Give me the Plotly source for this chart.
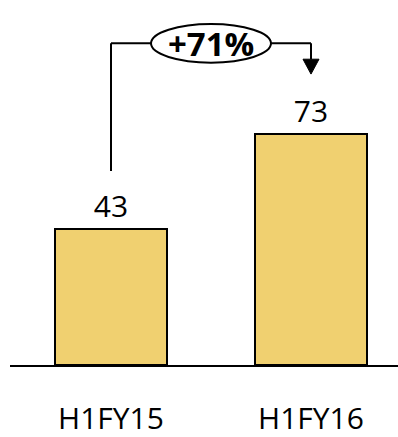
import plotly.graph_objects as go

# Half-year revenue comparison
periods = ["H1FY15", "H1FY16"]
values = [43, 73]
growth_label = "+71%"

bar_color = "#F0D070"
font_family = "Open Sans, Liberation Sans, sans-serif"

fig = go.Figure()

fig.add_trace(go.Bar(
    x=periods,
    y=values,
    width=0.56,
    marker=dict(color=bar_color, line=dict(color="black", width=2)),
    text=[str(v) for v in values],
    textposition="outside",
    textfont=dict(family=font_family, size=30, color="black"),
    cliponaxis=False,
))

# Growth bracket: rises from the first bar, passes the ellipse, drops onto the second bar
top = max(values) + 28.6
start = values[0] + 18.3
tip = values[1] + 18.9
head_h = 4.7
head_w = 0.04
mid = 0.5
ell_half_w = 0.3
ell_half_h = 6.1

line_style = dict(color="black", width=2)
shapes = [
    dict(type="line", xref="x", yref="y", x0=0, x1=0, y0=start, y1=top, line=line_style),
    dict(type="line", xref="x", yref="y", x0=0, x1=mid - ell_half_w, y0=top, y1=top, line=line_style),
    dict(type="line", xref="x", yref="y", x0=mid + ell_half_w, x1=1, y0=top, y1=top, line=line_style),
    dict(type="line", xref="x", yref="y", x0=1, x1=1, y0=top, y1=tip + head_h, line=line_style),
    dict(type="path", xref="x", yref="y",
         path=f"M {1 - head_w},{tip + head_h} L {1 + head_w},{tip + head_h} L 1,{tip} Z",
         fillcolor="black", line=dict(color="black", width=1)),
    dict(type="circle", xref="x", yref="y",
         x0=mid - ell_half_w, x1=mid + ell_half_w,
         y0=top - ell_half_h, y1=top + ell_half_h,
         fillcolor="white", line=line_style),
]

fig.add_annotation(
    x=mid, y=top, xref="x", yref="y",
    text=f"<b>{growth_label}</b>",
    showarrow=False,
    font=dict(family=font_family, size=33, color="black"),
)

fig.update_layout(
    width=398,
    height=437,
    margin=dict(l=10, r=0, t=0, b=72, autoexpand=False),
    paper_bgcolor="white",
    plot_bgcolor="white",
    showlegend=False,
    shapes=shapes,
    xaxis=dict(
        type="category",
        range=[-0.505, 1.435],
        automargin=False,
        showline=True,
        linecolor="black",
        linewidth=2,
        showgrid=False,
        ticks="",
        ticklabelstandoff=26,
        tickfont=dict(family=font_family, size=30, color="black"),
    ),
    yaxis=dict(
        range=[0, 115.3],
        visible=False,
        showgrid=False,
        zeroline=False,
    ),
)

fig.write_html("out.html")
